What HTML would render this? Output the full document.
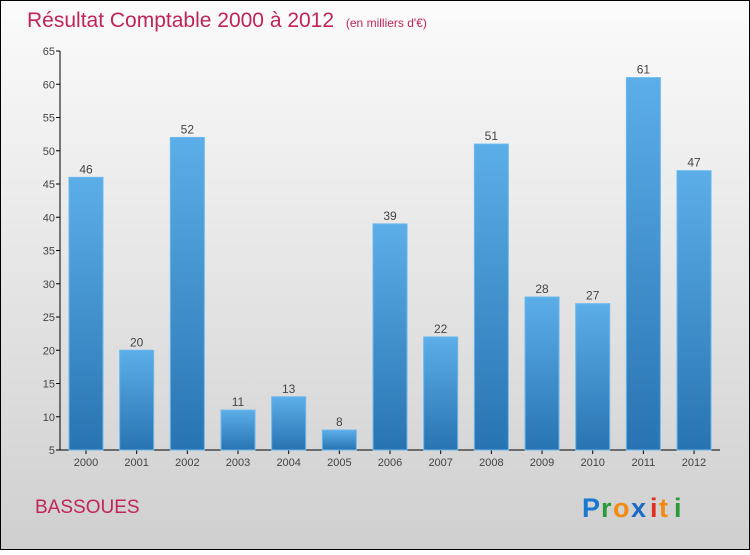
<!DOCTYPE html>
<html><head><meta charset="utf-8"><style>
body{margin:0}
#c{width:750px;height:550px;position:relative;font-family:"Liberation Sans",sans-serif}
</style></head><body>
<div id="c">
<svg width="750" height="550" xmlns="http://www.w3.org/2000/svg" id="s">
<defs>
<linearGradient id="bg" x1="0" y1="0" x2="0" y2="1"><stop offset="0" stop-color="#fbfbfb"/><stop offset="1" stop-color="#cfcfcf"/></linearGradient>
<linearGradient id="bar" x1="0" y1="0" x2="0" y2="1"><stop offset="0" stop-color="#5caee8"/><stop offset="1" stop-color="#2874b2"/></linearGradient>
</defs>
<rect x="0.5" y="0.5" width="749" height="549" fill="url(#bg)" stroke="#000"/>
<text x="27" y="27" font-size="21" fill="#c0245a">Résultat Comptable 2000 à 2012 <tspan font-size="12" dx="6">(en milliers d'€)</tspan></text>
<text x="35" y="513" font-size="19" fill="#c0245a">BASSOUES</text>
<g font-size="27" font-weight="bold" font-family="'Liberation Sans',sans-serif">
<text x="582" y="517" fill="#1a78d0">P</text><text x="601" y="517" fill="#2a9a3a">r</text><text x="613" y="517" fill="#f08a10">o</text><text x="631" y="517" fill="#1a6ac8">x</text><text x="650" y="517" fill="#e03020">i</text><text x="659" y="517" fill="#f08a10">t</text><text x="674" y="517" fill="#2a9a3a">i</text>
</g>
<g id="axes"></g><g id="bars"></g>
</svg>
</div>
<script>
const categories=["2000","2001","2002","2003","2004","2005","2006","2007","2008","2009","2010","2011","2012"];
const values=[46,20,52,11,13,8,39,22,51,28,27,61,47];
const ticks=[5,10,15,20,25,30,35,40,45,50,55,60,65];
const NS="http://www.w3.org/2000/svg";
const y=v=>450-(v-5)*(399/60);
const x=i=>86+i*50.67;
function mk(t,a,p){const e=document.createElementNS(NS,t);for(const k in a)e.setAttribute(k,a[k]);p.appendChild(e);return e;}
const ax=document.getElementById('axes'),bs=document.getElementById('bars');
const yl=mk('line',{x1:60,y1:y(65),x2:60,y2:450,stroke:'#000'},ax);


const xl=mk('line',{x1:60,y1:450,x2:720,y2:450,stroke:'#000'},ax);


ticks.forEach(t=>{
 mk('line',{x1:56,y1:y(t),x2:60,y2:y(t),stroke:'#000'},ax);
 const tx=mk('text',{x:55,y:y(t)+4,'font-size':11,fill:'#444','text-anchor':'end'},ax);
 tx.textContent=t;
 
 
});
categories.forEach((c,i)=>{
 const r=mk('rect',{x:x(i)-17,y:y(values[i]),width:34,height:450-y(values[i]),fill:'url(#bar)',stroke:'#6ab8ee','stroke-width':1},bs);
 
 
 const v=mk('text',{x:x(i),y:y(values[i])-4,'font-size':12,fill:'#444','text-anchor':'middle'},bs);
 v.textContent=values[i];
 
 
 mk('line',{x1:x(i),y1:450,x2:x(i),y2:454,stroke:'#000'},ax);
 const l=mk('text',{x:x(i),y:466,'font-size':11,fill:'#444','text-anchor':'middle'},ax);
 l.textContent=c;
 
 
});
</script>
</body></html>
